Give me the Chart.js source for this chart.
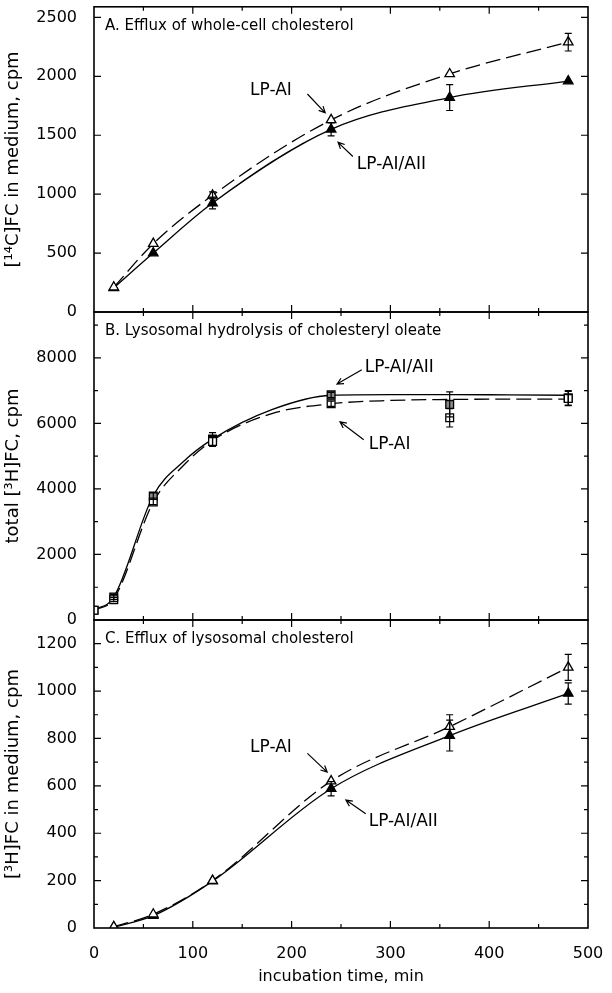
<!DOCTYPE html>
<html>
<head>
<meta charset="utf-8">
<script src="https://cdn.jsdelivr.net/npm/chart.js@4.4.0/dist/chart.umd.min.js"></script>
<style>
  body { margin: 0; background: #fff; }
  #wrap { position: relative; width: 612px; height: 993px; }
  #wrap canvas { position: absolute; left: 0; top: 0; }
</style>
</head>
<body>
<div id="wrap">
  <canvas id="panelA" width="612" height="993"></canvas>
  <canvas id="panelB" width="612" height="993"></canvas>
  <canvas id="panelC" width="612" height="993"></canvas>
</div>
<script>
// incubation times (min)
const timesA = [20, 60, 120, 240, 360, 480];
const timesB = [0, 20, 60, 120, 240, 360, 480];
const timesC = [20, 60, 120, 240, 360, 480];
const xLabels = [0, 100, 200, 300, 400, 500];

// A. efflux of whole-cell cholesterol, [14C]FC cpm
const aLpAI = [210, 580, 990, 1630, 2020, 2290];
const aLpAIErr = [0, 0, 30, 0, 0, 75];
const aLpAIAII = [205, 500, 925, 1550, 1820, 1960];
const aLpAIAIIErr = [0, 0, 50, 55, 110, 0];
const aYLabels = [0, 500, 1000, 1500, 2000, 2500];

// B. lysosomal hydrolysis of cholesteryl oleate, total [3H]FC cpm
const bLpAI = [300, 620, 3600, 5450, 6600, 6170, 6760];
const bLpAIErr = [0, 60, 80, 150, 80, 280, 220];
const bLpAIAII = [300, 700, 3780, 5520, 6870, 6580, 6780];
const bLpAIAIIErr = [0, 80, 100, 200, 80, 380, 220];
// fitted curves as drawn in the figure
const bFitTimes = [0, 20, 60, 90, 120, 180, 240, 300, 360, 420, 480];
const bFitLpAI = [300, 640, 3600, 4700, 5480, 6300, 6600, 6700, 6730, 6740, 6740];
const bFitLpAIAII = [300, 700, 3800, 4820, 5520, 6420, 6860, 6880, 6880, 6870, 6860];
const bYLabels = [0, 2000, 4000, 6000, 8000];

// C. efflux of lysosomal cholesterol, [3H]FC cpm
const cLpAI = [5, 58, 200, 620, 850, 1100];
const cLpAIErr = [0, 0, 0, 0, 50, 55];
const cLpAIAII = [3, 52, 198, 588, 812, 990];
const cLpAIAIIErr = [0, 0, 0, 30, 65, 45];
const cYLabels = [0, 200, 400, 600, 800, 1000, 1200];

const FONT = "'DejaVu Sans', sans-serif";
const DASH = [15, 6];

function pts(xs, ys) {
  return xs.map((x, i) => ({ x: x, y: ys[i] }));
}

function decor(cfg) {
  return {
    id: 'decor',
    afterDatasetsDraw(chart) {
      const { ctx, chartArea: a, scales: { x, y } } = chart;
      ctx.save();
      ctx.strokeStyle = '#000';
      ctx.fillStyle = '#000';

      // frame
      ctx.lineWidth = 1.6;
      ctx.strokeRect(a.left, a.top, a.right - a.left, a.bottom - a.top);

      // inward ticks
      ctx.lineWidth = 1.2;
      ctx.beginPath();
      for (let v = 50; v < 500; v += 50) {
        const px = x.getPixelForValue(v);
        const len = v % 100 === 0 ? 7 : 4;
        ctx.moveTo(px, a.bottom); ctx.lineTo(px, a.bottom - len);
        ctx.moveTo(px, a.top); ctx.lineTo(px, a.top + len);
      }
      for (let v = cfg.yMinor; v < cfg.yMax; v += cfg.yMinor) {
        const py = y.getPixelForValue(v);
        const len = v % cfg.yMajor === 0 ? 7 : 4;
        ctx.moveTo(a.left, py); ctx.lineTo(a.left + len, py);
        ctx.moveTo(a.right, py); ctx.lineTo(a.right - len, py);
      }
      ctx.stroke();

      // error bars
      ctx.lineWidth = 1.2;
      cfg.series.forEach(s => {
        s.times.forEach((t, i) => {
          const e = s.err[i];
          if (!e) return;
          const px = x.getPixelForValue(t);
          const hi = y.getPixelForValue(s.values[i] + e);
          const lo = y.getPixelForValue(s.values[i] - e);
          ctx.beginPath();
          ctx.moveTo(px, hi); ctx.lineTo(px, lo);
          ctx.moveTo(px - 3.5, hi); ctx.lineTo(px + 3.5, hi);
          ctx.moveTo(px - 3.5, lo); ctx.lineTo(px + 3.5, lo);
          ctx.stroke();
        });
      });

      // panel title
      ctx.font = '15px ' + FONT;
      ctx.textBaseline = 'middle';
      ctx.textAlign = 'left';
      ctx.fillText(cfg.title, a.left + 11, a.top + 19);

      // labels with arrows
      ctx.font = '17px ' + FONT;
      cfg.notes.forEach(n => {
        ctx.fillText(n.text, x.getPixelForValue(n.at[0]), y.getPixelForValue(n.at[1]));
        const x1 = x.getPixelForValue(n.from[0]), y1 = y.getPixelForValue(n.from[1]);
        const x2 = x.getPixelForValue(n.to[0]), y2 = y.getPixelForValue(n.to[1]);
        const ang = Math.atan2(y2 - y1, x2 - x1);
        ctx.beginPath();
        ctx.moveTo(x1, y1); ctx.lineTo(x2, y2);
        ctx.moveTo(x2 - 7 * Math.cos(ang - 0.45), y2 - 7 * Math.sin(ang - 0.45));
        ctx.lineTo(x2, y2);
        ctx.lineTo(x2 - 7 * Math.cos(ang + 0.45), y2 - 7 * Math.sin(ang + 0.45));
        ctx.stroke();
      });
      ctx.restore();
    }
  };
}

function drawPanel(id, cfg) {
  const datasets = [];
  cfg.series.forEach(s => {
    datasets.push({
      data: pts(s.times, s.values),
      showLine: false,
      pointStyle: s.marker,
      pointRadius: 5.5,
      backgroundColor: s.fill,
      borderColor: '#000',
      borderWidth: 1.3,
      order: 1
    });
    datasets.push({
      data: pts(s.fitTimes, s.fit),
      showLine: true,
      pointRadius: 0,
      borderColor: '#000',
      borderWidth: 1.3,
      borderDash: s.dash,
      cubicInterpolationMode: 'monotone',
      fill: false,
      order: 2
    });
  });

  new Chart(document.getElementById(id), {
    type: 'scatter',
    data: { datasets: datasets },
    options: {
      responsive: false,
      animation: false,
      layout: { padding: { top: cfg.padTop, bottom: cfg.padBottom, left: 0, right: 24 } },
      plugins: { legend: { display: false }, tooltip: { enabled: false } },
      scales: {
        x: {
          type: 'linear',
          min: 0,
          max: 500,
          display: cfg.showX,
          afterFit(s) {
            s.height = cfg.showX ? 65 : 0;
            s.paddingLeft = 0; s.paddingRight = 0;
          },
          afterBuildTicks(s) { s.ticks = xLabels.map(v => ({ value: v })); },
          grid: { display: false },
          border: { display: false },
          ticks: {
            font: { family: FONT, size: 16 }, color: '#000', padding: 8, maxRotation: 0,
            callback: v => String(v)
          },
          title: {
            display: true,
            text: 'incubation time, min',
            font: { family: FONT, size: 16 },
            color: '#000',
            padding: { top: 0, bottom: 7 }
          }
        },
        y: {
          min: 0,
          max: cfg.yMax,
          afterFit(s) {
            s.width = 94;
            s.paddingTop = 0; s.paddingBottom = 0;
          },
          afterBuildTicks(s) { s.ticks = cfg.yLabels.map(v => ({ value: v })); },
          grid: { display: false },
          border: { display: false },
          ticks: {
            font: { family: FONT, size: 16 }, color: '#000', padding: 9,
            callback: v => String(v)
          },
          title: {
            display: true,
            text: cfg.yTitle,
            font: { family: FONT, size: 18 },
            color: '#000',
            padding: { top: 3, bottom: 0 }
          }
        }
      }
    },
    plugins: [decor(cfg)]
  });
}

drawPanel('panelA', {
  padTop: 6, padBottom: 681, showX: false,
  yMax: 2590, yMajor: 500, yMinor: 500, yLabels: aYLabels,
  yTitle: '[¹⁴C]FC in medium, cpm',
  title: 'A. Efflux of whole-cell cholesterol',
  series: [
    { times: timesA, values: aLpAI, err: aLpAIErr, fitTimes: timesA, fit: aLpAI,
      marker: 'triangle', fill: '#fff', dash: DASH },
    { times: timesA, values: aLpAIAII, err: aLpAIAIIErr, fitTimes: timesA, fit: aLpAIAII,
      marker: 'triangle', fill: '#000', dash: [] }
  ],
  notes: [
    { text: 'LP-AI', at: [158, 1880], from: [216, 1850], to: [234, 1690] },
    { text: 'LP-AI/AII', at: [266, 1250], from: [262, 1320], to: [247, 1440] }
  ]
});

drawPanel('panelB', {
  padTop: 312, padBottom: 373, showX: false,
  yMax: 9400, yMajor: 2000, yMinor: 1000, yLabels: bYLabels,
  yTitle: 'total [³H]FC, cpm',
  title: 'B. Lysosomal hydrolysis of cholesteryl oleate',
  series: [
    { times: timesB, values: bLpAI, err: bLpAIErr, fitTimes: bFitTimes, fit: bFitLpAI,
      marker: 'rect', fill: '#fff', dash: DASH },
    { times: timesB, values: bLpAIAII, err: bLpAIAIIErr, fitTimes: bFitTimes, fit: bFitLpAIAII,
      marker: 'rect', fill: '#8a8a8a', dash: [] }
  ],
  notes: [
    { text: 'LP-AI/AII', at: [274, 7700], from: [271, 7640], to: [246, 7200] },
    { text: 'LP-AI', at: [278, 5350], from: [273, 5500], to: [249, 6050] }
  ]
});

drawPanel('panelC', {
  padTop: 620, padBottom: 0, showX: true,
  yMax: 1300, yMajor: 200, yMinor: 100, yLabels: cYLabels,
  yTitle: '[³H]FC in medium, cpm',
  title: 'C. Efflux of lysosomal cholesterol',
  series: [
    { times: timesC, values: cLpAI, err: cLpAIErr, fitTimes: timesC, fit: cLpAI,
      marker: 'triangle', fill: '#fff', dash: DASH },
    { times: timesC, values: cLpAIAII, err: cLpAIAIIErr, fitTimes: timesC, fit: cLpAIAII,
      marker: 'triangle', fill: '#000', dash: [] }
  ],
  notes: [
    { text: 'LP-AI', at: [158, 760], from: [216, 737], to: [236, 658] },
    { text: 'LP-AI/AII', at: [278, 450], from: [275, 482], to: [255, 540] }
  ]
});
</script>
</body>
</html>
